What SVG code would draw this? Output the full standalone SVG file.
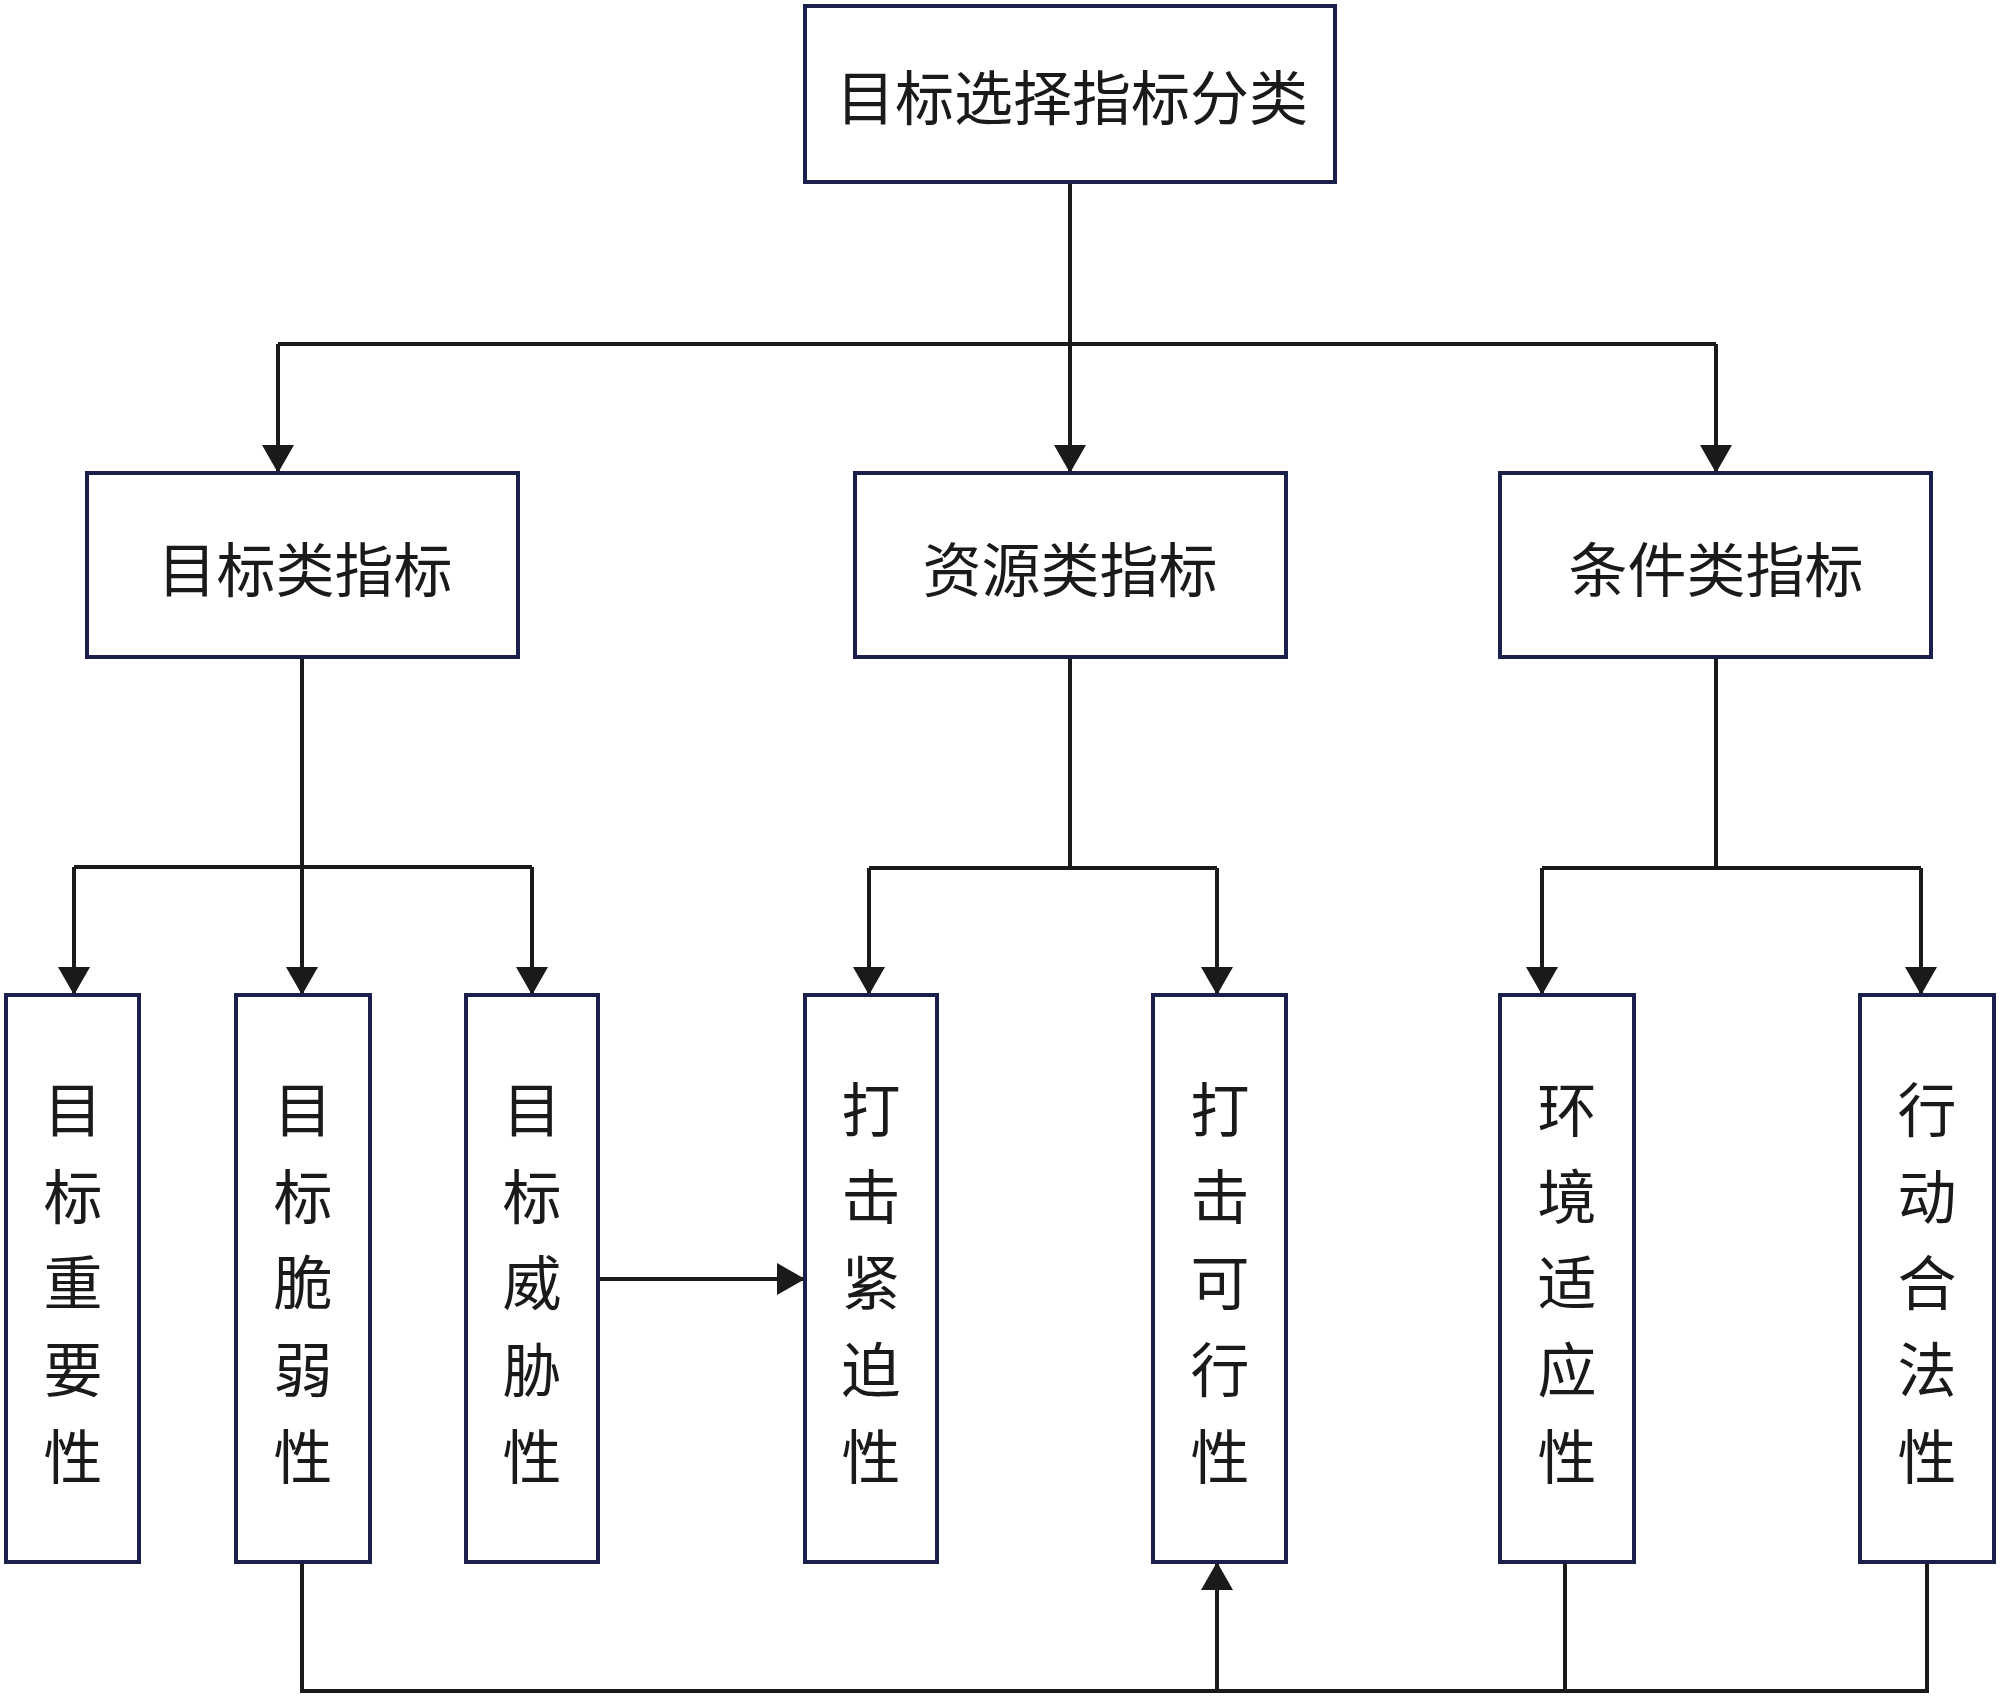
<svg xmlns="http://www.w3.org/2000/svg" width="2000" height="1698" viewBox="0 0 2000 1698">
<style>
.box{fill:#ffffff;stroke:#1b1f4b;stroke-width:4}
.lbl{font-family:"Noto Sans CJK SC","Noto Sans CJK TC",sans-serif;font-size:59px;fill:#1a1a1a;text-anchor:middle}
.ln{fill:none;stroke:#1a1a1a;stroke-width:4}
</style>
<defs>
<marker id="ah" viewBox="0 0 28 32" refX="28" refY="16" markerWidth="28" markerHeight="32" markerUnits="userSpaceOnUse" orient="auto">
<path d="M0,0 L28,16 L0,32 z" fill="#1a1a1a"/>
</marker>
</defs>
<rect x="0" y="0" width="2000" height="1698" fill="#ffffff"/>
<g id="connectors">
<path class="ln" d="M1070,182 V473" marker-end="url(#ah)"/>
<path class="ln" d="M278,344 H1716"/>
<path class="ln" d="M278,344 V473" marker-end="url(#ah)"/>
<path class="ln" d="M1716,344 V473" marker-end="url(#ah)"/>
<path class="ln" d="M302,657 V995" marker-end="url(#ah)"/>
<path class="ln" d="M74,867 H532"/>
<path class="ln" d="M74,867 V995" marker-end="url(#ah)"/>
<path class="ln" d="M532,867 V995" marker-end="url(#ah)"/>
<path class="ln" d="M1070,657 V868"/>
<path class="ln" d="M869,868 H1217"/>
<path class="ln" d="M869,868 V995" marker-end="url(#ah)"/>
<path class="ln" d="M1217,868 V995" marker-end="url(#ah)"/>
<path class="ln" d="M1716,657 V868"/>
<path class="ln" d="M1542,868 H1921"/>
<path class="ln" d="M1542,868 V995" marker-end="url(#ah)"/>
<path class="ln" d="M1921,868 V995" marker-end="url(#ah)"/>
<path class="ln" d="M598,1279 H805" marker-end="url(#ah)"/>
<path class="ln" d="M302,1562 V1691 H1927 V1562"/>
<path class="ln" d="M1565,1562 V1691"/>
<path class="ln" d="M1217,1691 V1562" marker-end="url(#ah)"/>
</g>
<g id="root">
<rect class="box" x="805" y="6" width="530" height="176"/>
<text class="lbl" x="1072" y="120">目标选择指标分类</text>
</g>
<g id="target">
<rect class="box" x="87" y="473" width="431" height="184"/>
<text class="lbl" x="305" y="592">目标类指标</text>
</g>
<g id="resource">
<rect class="box" x="855" y="473" width="431" height="184"/>
<text class="lbl" x="1070" y="592">资源类指标</text>
</g>
<g id="condition">
<rect class="box" x="1500" y="473" width="431" height="184"/>
<text class="lbl" x="1716" y="592">条件类指标</text>
</g>
<g id="importance">
<rect class="box" x="6" y="995" width="133" height="567"/>
<text class="lbl"><tspan x="73" y="1132">目</tspan><tspan x="73" y="1219">标</tspan><tspan x="73" y="1305">重</tspan><tspan x="73" y="1392">要</tspan><tspan x="73" y="1479">性</tspan></text>
</g>
<g id="vulnerability">
<rect class="box" x="236" y="995" width="134" height="567"/>
<text class="lbl"><tspan x="303" y="1132">目</tspan><tspan x="303" y="1219">标</tspan><tspan x="303" y="1305">脆</tspan><tspan x="303" y="1392">弱</tspan><tspan x="303" y="1479">性</tspan></text>
</g>
<g id="threat">
<rect class="box" x="466" y="995" width="132" height="567"/>
<text class="lbl"><tspan x="532" y="1132">目</tspan><tspan x="532" y="1219">标</tspan><tspan x="532" y="1305">威</tspan><tspan x="532" y="1392">胁</tspan><tspan x="532" y="1479">性</tspan></text>
</g>
<g id="urgency">
<rect class="box" x="805" y="995" width="132" height="567"/>
<text class="lbl"><tspan x="871" y="1132">打</tspan><tspan x="871" y="1219">击</tspan><tspan x="871" y="1305">紧</tspan><tspan x="871" y="1392">迫</tspan><tspan x="871" y="1479">性</tspan></text>
</g>
<g id="feasibility">
<rect class="box" x="1153" y="995" width="133" height="567"/>
<text class="lbl"><tspan x="1220" y="1132">打</tspan><tspan x="1220" y="1219">击</tspan><tspan x="1220" y="1305">可</tspan><tspan x="1220" y="1392">行</tspan><tspan x="1220" y="1479">性</tspan></text>
</g>
<g id="environment">
<rect class="box" x="1500" y="995" width="134" height="567"/>
<text class="lbl"><tspan x="1567" y="1132">环</tspan><tspan x="1567" y="1219">境</tspan><tspan x="1567" y="1305">适</tspan><tspan x="1567" y="1392">应</tspan><tspan x="1567" y="1479">性</tspan></text>
</g>
<g id="legality">
<rect class="box" x="1860" y="995" width="134" height="567"/>
<text class="lbl"><tspan x="1927" y="1132">行</tspan><tspan x="1927" y="1219">动</tspan><tspan x="1927" y="1305">合</tspan><tspan x="1927" y="1392">法</tspan><tspan x="1927" y="1479">性</tspan></text>
</g>
</svg>
